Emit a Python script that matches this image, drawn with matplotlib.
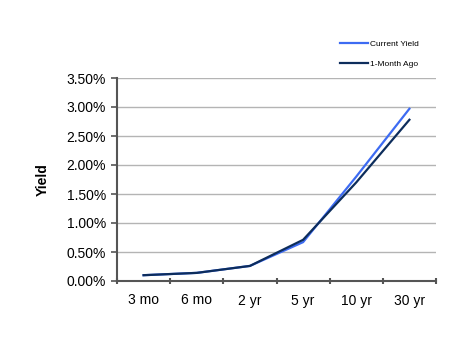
import matplotlib
matplotlib.use("Agg")
import matplotlib.pyplot as plt
from matplotlib.lines import Line2D

categories = ["3 mo", "6 mo", "2 yr", "5 yr", "10 yr", "30 yr"]
current_yield = [0.10, 0.14, 0.26, 0.67, 1.80, 2.97]
month_ago = [0.10, 0.14, 0.26, 0.71, 1.70, 2.78]
yticks = [0.0, 0.5, 1.0, 1.5, 2.0, 2.5, 3.0, 3.5]

plt.rcParams['font.family'] = ['Liberation Sans', 'DejaVu Sans']

fig = plt.figure(figsize=(4.67, 3.41), dpi=100)
ax = fig.add_axes([117/467, 60/341, (436-117)/467, (281-78)/341])

x = list(range(len(categories)))
c_cur = "#3D6BF2"
c_ago = "#0D2D5C"
ax.plot(x, current_yield, color=c_cur, lw=1.6, zorder=3)
ax.plot(x, month_ago, color=c_ago, lw=1.6, zorder=4)

ax.set_xlim(-0.5, 5.5)
ax.set_ylim(0, 3.5)
ax.set_yticks(yticks)
ax.set_yticklabels([f"{v:.2f}%" for v in yticks], fontsize=10)
ax.set_xticks(x)
ax.set_xticklabels(categories, fontsize=10)
ax.set_xticks([i - 0.5 for i in range(len(categories) + 1)], minor=True)
ax.tick_params(axis='x', which='major', length=0, pad=9)
ax.tick_params(axis='x', which='minor', length=4, width=1.5, color="#555555", direction='inout')
ax.tick_params(axis='y', length=4, width=1.2, color="#555555", direction='out', pad=4)

ax.yaxis.grid(True, color="#B4B4B4", lw=1)
ax.set_axisbelow(True)
for s in ["top", "right"]:
    ax.spines[s].set_visible(False)
for s in ["left", "bottom"]:
    ax.spines[s].set_color("#555555")
    ax.spines[s].set_linewidth(1.5)

ax.set_ylabel("Yield", fontsize=10, fontweight='bold', labelpad=12)

handles = [Line2D([], [], color=c_cur, lw=1.6), Line2D([], [], color=c_ago, lw=1.6)]
fig.legend(handles, ["Current Yield", "1-Month Ago"], loc='upper left',
           bbox_to_anchor=(332/467, 1 - 33/341), frameon=False, fontsize=6,
           handlelength=3.4, labelspacing=1.45, handletextpad=0.25)

fig.savefig("out.png", dpi=100)
